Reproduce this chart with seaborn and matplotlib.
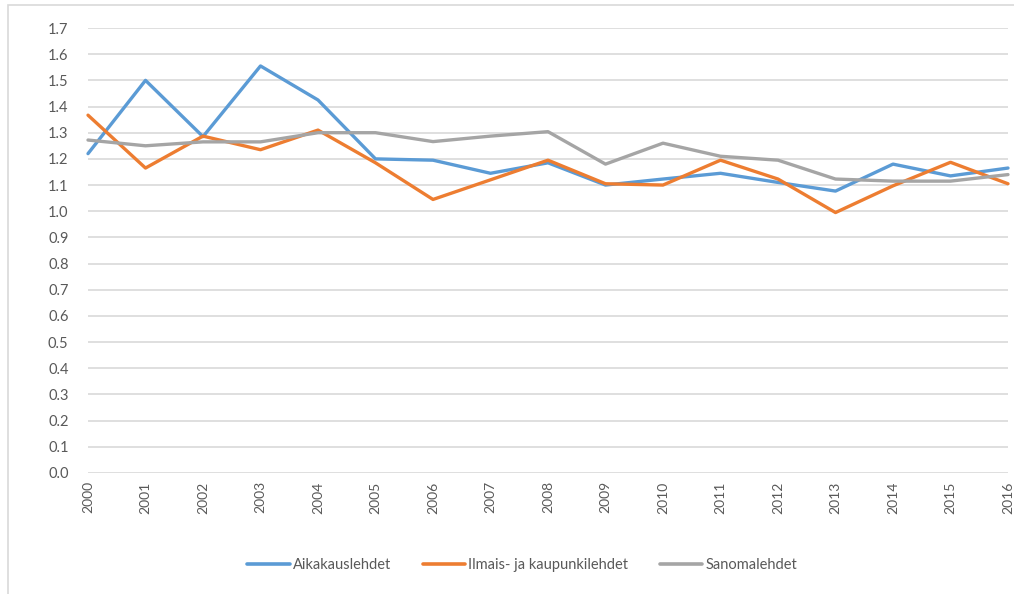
import numpy as np
import pandas as pd
import matplotlib
matplotlib.use("Agg")
import matplotlib.pyplot as plt
import seaborn as sns
from matplotlib.patches import Rectangle

years = list(range(2000, 2017))
aikakauslehdet = [1.22, 1.50, 1.285, 1.555, 1.425, 1.20, 1.195, 1.145, 1.185, 1.10,
                  1.123, 1.145, 1.11, 1.077, 1.18, 1.135, 1.165]
ilmais = [1.367, 1.165, 1.287, 1.235, 1.31, 1.185, 1.045, 1.12, 1.195, 1.105,
          1.10, 1.195, 1.123, 0.995, 1.097, 1.187, 1.105]
sanomalehdet = [1.272, 1.25, 1.265, 1.265, 1.30, 1.30, 1.266, 1.287, 1.304, 1.18,
                1.26, 1.21, 1.195, 1.123, 1.115, 1.115, 1.14]
series_names = ["Aikakauslehdet", "Ilmais- ja kaupunkilehdet", "Sanomalehdet"]
colors = ["#5B9BD5", "#ED7D31", "#A5A5A5"]
y_ticks = [round(0.1 * i, 1) for i in range(18)]

df = pd.DataFrame({
    "year": years * 3,
    "value": aikakauslehdet + ilmais + sanomalehdet,
    "series": [series_names[0]] * 17 + [series_names[1]] * 17 + [series_names[2]] * 17,
})

sns.set_theme(style="white")
plt.rcParams["font.family"] = ["Lato", "DejaVu Sans"]

fig = plt.figure(figsize=(10.14, 5.94), dpi=100)
ax = fig.add_axes([88 / 1014, 1 - 473 / 594, (1008 - 88) / 1014, (473 - 28) / 594])

sns.lineplot(data=df, x="year", y="value", hue="series", palette=colors,
             linewidth=2.4, ax=ax, legend=False, clip_on=False)

ax.set_xlim(2000, 2016)
ax.set_ylim(0, 1.7)
ax.set_yticks(y_ticks)
ax.set_yticklabels([f"{v:.1f}" for v in y_ticks])
ax.set_xticks(years)
ax.set_xticklabels([str(y) for y in years], rotation=90)
ax.yaxis.grid(True, color="#D9D9D9", linewidth=1.2)
ax.set_axisbelow(True)
for s in ax.spines.values():
    s.set_visible(False)
ax.tick_params(axis="both", length=0, colors="#595959")
ax.tick_params(axis="y", pad=14, labelsize=10.5)
ax.tick_params(axis="x", pad=6, labelsize=10)
ax.set_xlabel("")
ax.set_ylabel("")

handles = [plt.Line2D([0], [0], color=c, linewidth=2.6) for c in colors]
fig.legend(handles, series_names, loc="center", bbox_to_anchor=(0.515, 1 - 565 / 594),
           ncol=3, frameon=False, fontsize=10.5, handlelength=2.9, columnspacing=2.2,
           handletextpad=0.2, labelcolor="#595959")

fig.patches.append(Rectangle((8 / 1014, -0.1), 1.2, 1 - 5 / 594 + 0.1,
                             transform=fig.transFigure, fill=False,
                             edgecolor="#D9D9D9", linewidth=1.2))

fig.savefig("out.png", dpi=100)
